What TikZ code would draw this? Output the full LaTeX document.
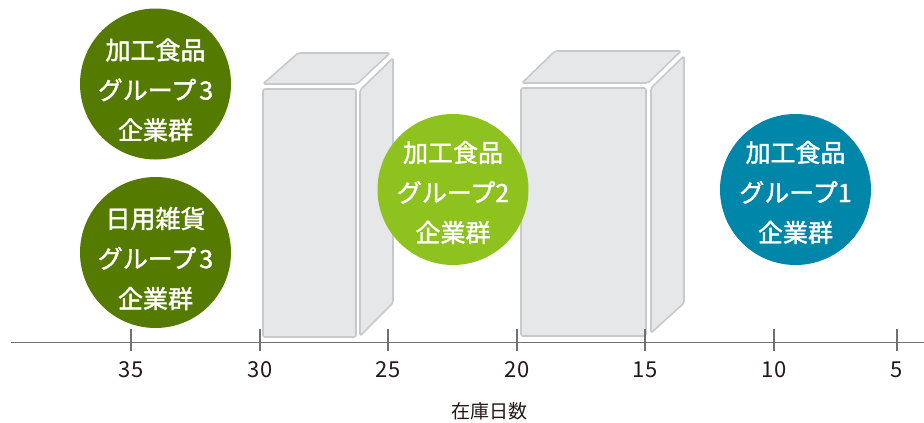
\documentclass[tikz,border=0pt]{standalone}
\usepackage{fontspec}
\setmainfont{Noto Sans CJK JP}
\newfontfamily\circfont[FakeBold=1.5]{Noto Sans CJK JP}
\definecolor{dkgreen}{RGB}{84,122,0}
\definecolor{ltgreen}{RGB}{141,194,31}
\definecolor{cblue}{RGB}{0,134,168}
\definecolor{boxfill}{RGB}{230,231,232}
\definecolor{boxline}{RGB}{200,201,202}
\definecolor{axisgray}{RGB}{112,112,112}
\definecolor{numcol}{RGB}{35,24,21}
\tikzset{
  face/.style={fill=boxfill, draw=boxline, line width=1.6pt, rounded corners=2pt, line join=round},
  grp/.style={circle, minimum size=151pt, inner sep=0pt},
  grptext/.style={text=white, align=center, inner sep=0pt,
    font=\circfont\fontsize{25}{40}\selectfont},
  axisline/.style={draw=axisgray, line width=1.4pt},
  ticklab/.style={text=numcol, font=\fontsize{22}{24}\selectfont, inner sep=0pt},
}
\begin{document}
\begin{tikzpicture}[x=1pt,y=-1pt]
\useasboundingbox (0,0) rectangle (924,423);
% box 1
\path[face] (263,84) -- (357,84) -- (390,53) -- (298,53) -- cycle;
\path[face] (360,90) -- (393,58) -- (393,303) -- (360,336) -- cycle;
\path[face] (263,89) rectangle (356,337);
% box 2
\path[face] (522,83) -- (648,83) -- (681,51) -- (555,51) -- cycle;
\path[face] (651,88) -- (684,56) -- (684,303) -- (651,333) -- cycle;
\path[face] (521,88) rectangle (646,336);
% axis
\coordinate (axL) at (11,342.5);
\coordinate (axR) at (924,342.5);
\draw[axisline] (axL) -- (axR);
\foreach \x/\v in {131/35, 260/30, 388/25, 517/20, 645/15, 774/10, 897/5} {
  \draw[axisline] (\x,329) -- (\x,351);
  \node[ticklab] (t\v) at (\x,370) {\v};
}
\node[text=numcol, font=\fontsize{19}{24}\selectfont, inner sep=0pt] (axtitle) at (489,411) {在庫日数};
% circles
\node[grp, fill=dkgreen] (g1) at (155.5,84) {};
\node[grp, fill=dkgreen] (g2) at (155.5,252.5) {};
\node[grp, fill=ltgreen] (g3) at (453,189.5) {};
\node[grp, fill=cblue] (g4) at (795.5,189.5) {};
\node[grptext] (g1t) at ([yshift=-6pt]g1.center) {加工食品\\グループ\hspace{3pt}3\\企業群};
\node[grptext] (g2t) at ([yshift=-6pt]g2.center) {日用雑貨\\グループ\hspace{3pt}3\\企業群};
\node[grptext] (g3t) at ([yshift=-3pt]g3.center) {加工食品\\グループ2\\企業群};
\node[grptext] (g4t) at ([yshift=-3pt]g4.center) {加工食品\\グループ1\\企業群};
\end{tikzpicture}
\end{document}
